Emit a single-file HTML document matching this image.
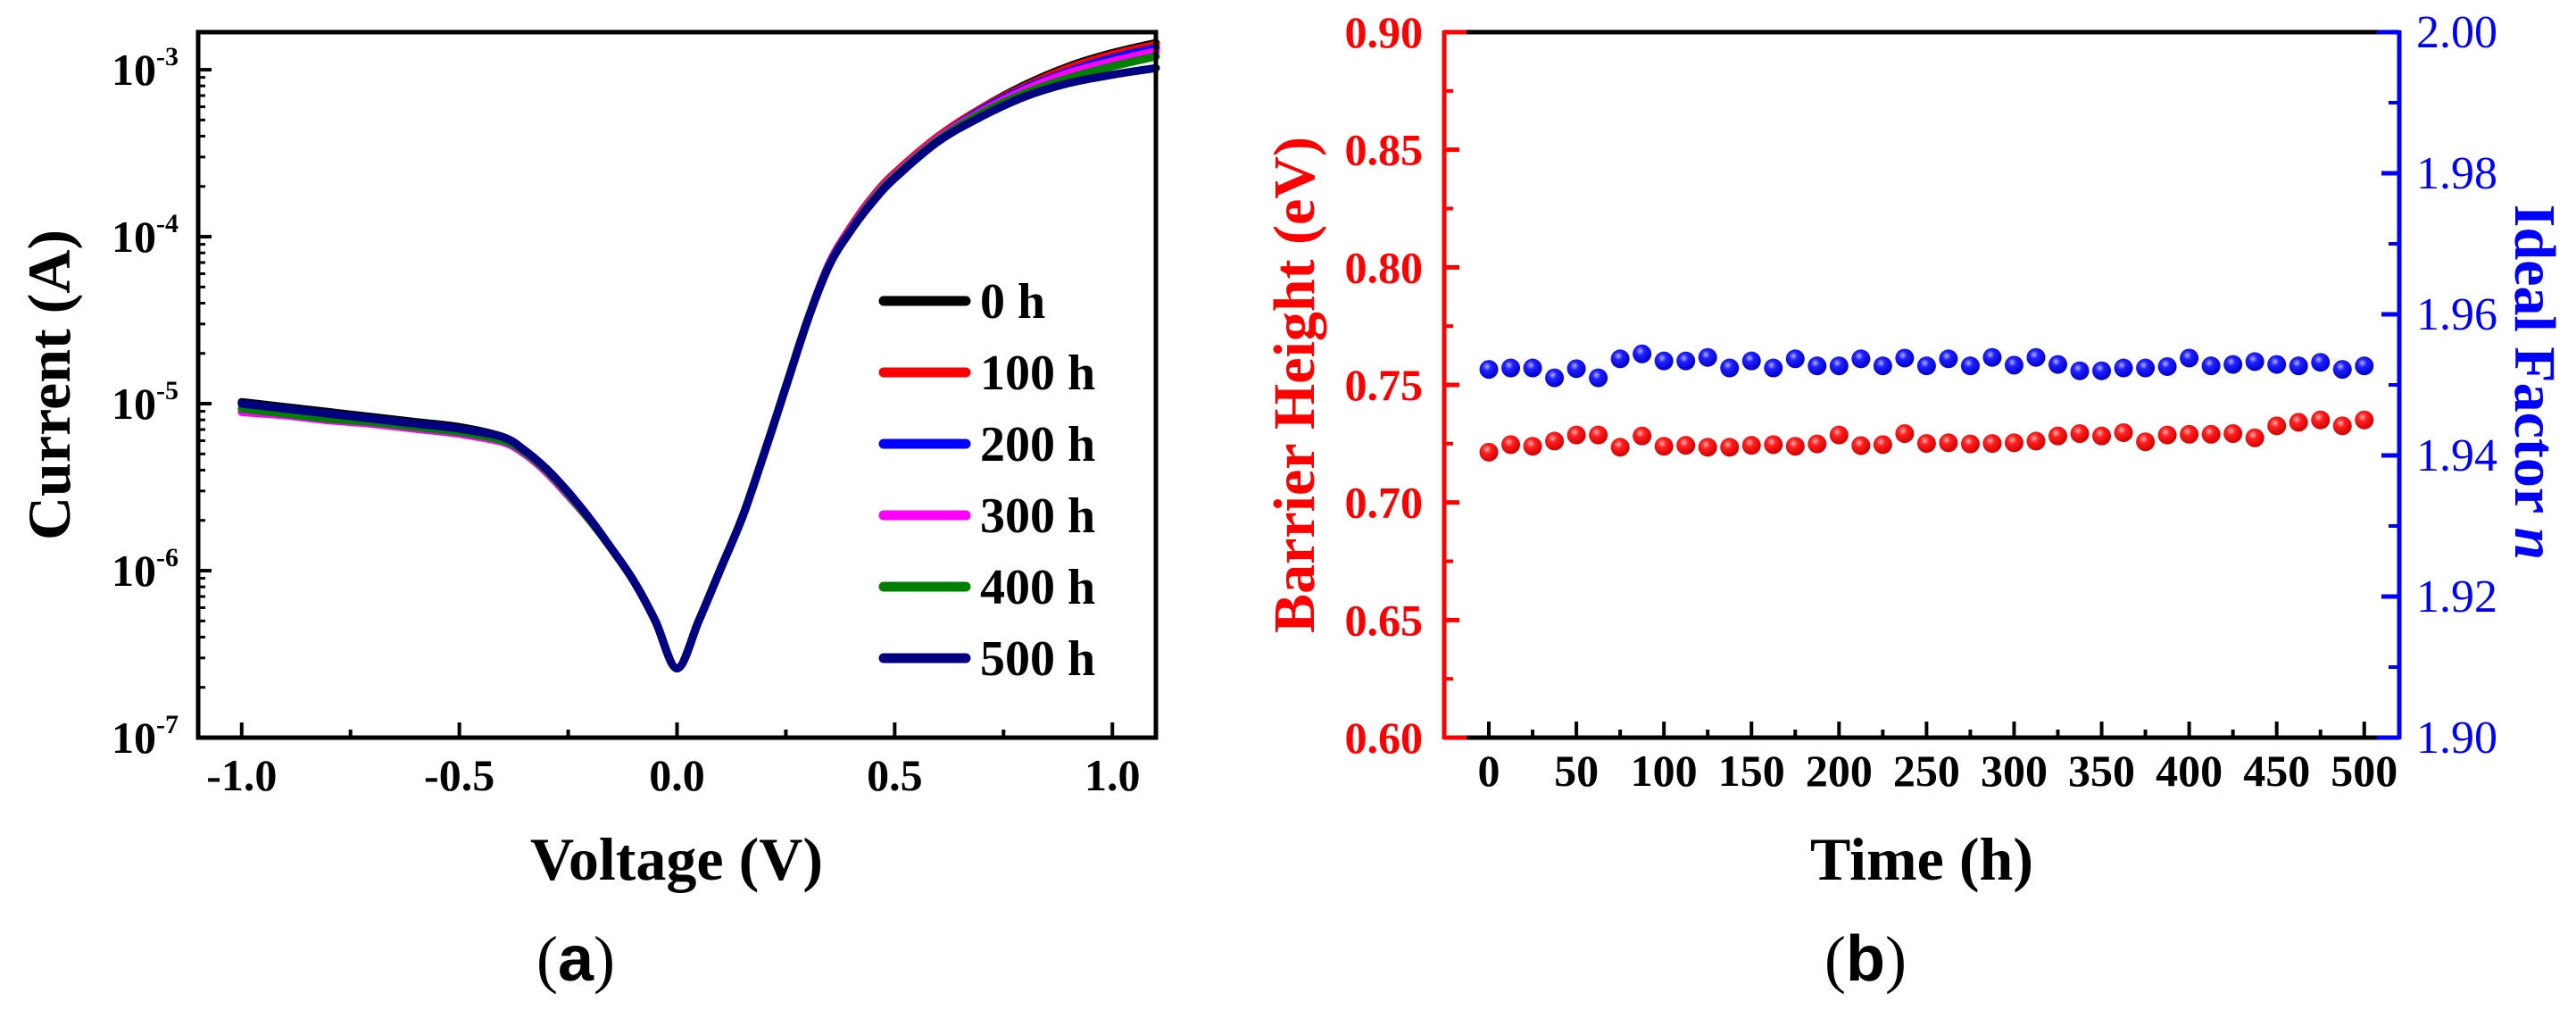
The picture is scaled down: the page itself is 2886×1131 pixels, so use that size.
<!DOCTYPE html>
<html><head><meta charset="utf-8">
<style>
html,body{margin:0;padding:0;background:#fff;}
svg{display:block;font-family:"Liberation Serif",serif;}
</style></head>
<body>
<svg id="fig" width="2886" height="1131" viewBox="0 0 2886 1131" xmlns="http://www.w3.org/2000/svg">
<defs>
<radialGradient id="gRed" cx="0.4" cy="0.35" r="0.65"><stop offset="0" stop-color="#ffb0b0"/><stop offset="0.35" stop-color="#ff2020"/><stop offset="1" stop-color="#d00000"/></radialGradient>
<radialGradient id="gBlue" cx="0.4" cy="0.35" r="0.65"><stop offset="0" stop-color="#b0b0ff"/><stop offset="0.35" stop-color="#2020ff"/><stop offset="1" stop-color="#0000c8"/></radialGradient>
</defs>
<g id="pa"></g>
<g id="pb"></g>
</svg>
<script>
// ---------- Panel (a) data ----------
const voltages = [-1,-0.9,-0.8,-0.7,-0.6,-0.5,-0.4,-0.35,-0.3,-0.25,-0.2,-0.15,-0.1,-0.05,0,0.05,0.1,0.15,0.2,0.25,0.3,0.35,0.4,0.45,0.5,0.6,0.7,0.8,0.9,1.0,1.1];
const seriesNames = ["0 h","100 h","200 h","300 h","400 h","500 h"];
// log10(current in A)
const logI_0h   = [-4.99,-5.02,-5.05,-5.08,-5.11,-5.14,-5.20,-5.28,-5.39,-5.53,-5.69,-5.87,-6.06,-6.30,-6.585,-6.30,-5.99,-5.68,-5.30,-4.90,-4.50,-4.16,-3.94,-3.76,-3.62,-3.40,-3.23,-3.09,-2.98,-2.90,-2.84];
const logI_100h = [-5.03,-5.06,-5.09,-5.12,-5.15,-5.18,-5.23,-5.30,-5.41,-5.55,-5.70,-5.87,-6.06,-6.30,-6.585,-6.30,-5.99,-5.68,-5.30,-4.90,-4.50,-4.16,-3.94,-3.76,-3.62,-3.40,-3.23,-3.10,-2.99,-2.91,-2.85];
const logI_200h = [-5.00,-5.03,-5.06,-5.09,-5.12,-5.15,-5.21,-5.29,-5.39,-5.53,-5.69,-5.87,-6.06,-6.30,-6.585,-6.30,-5.99,-5.68,-5.30,-4.90,-4.50,-4.16,-3.95,-3.77,-3.63,-3.41,-3.24,-3.11,-3.01,-2.93,-2.87];
const logI_300h = [-5.05,-5.07,-5.10,-5.12,-5.15,-5.18,-5.23,-5.30,-5.41,-5.55,-5.70,-5.87,-6.06,-6.30,-6.585,-6.30,-5.99,-5.68,-5.30,-4.90,-4.50,-4.16,-3.95,-3.77,-3.63,-3.41,-3.25,-3.12,-3.02,-2.95,-2.89];
const logI_400h = [-5.03,-5.06,-5.09,-5.11,-5.14,-5.17,-5.22,-5.29,-5.40,-5.54,-5.70,-5.87,-6.06,-6.30,-6.585,-6.30,-5.99,-5.68,-5.30,-4.90,-4.50,-4.17,-3.96,-3.78,-3.64,-3.42,-3.26,-3.14,-3.05,-2.98,-2.92];
const logI_500h = [-5.00,-5.03,-5.06,-5.09,-5.12,-5.15,-5.20,-5.28,-5.39,-5.53,-5.69,-5.87,-6.06,-6.30,-6.585,-6.30,-5.99,-5.68,-5.30,-4.90,-4.50,-4.17,-3.96,-3.79,-3.65,-3.43,-3.28,-3.16,-3.08,-3.03,-2.99];
const xTickValsA = [-1.0,-0.5,0.0,0.5,1.0];
const xTickLabelsA = ["-1.0","-0.5","0.0","0.5","1.0"];
const yDecadesA = [-7,-6,-5,-4,-3];

// ---------- Panel (b) data ----------
const times = [0,12.5,25,37.5,50,62.5,75,87.5,100,112.5,125,137.5,150,162.5,175,187.5,200,212.5,225,237.5,250,262.5,275,287.5,300,312.5,325,337.5,350,362.5,375,387.5,400,412.5,425,437.5,450,462.5,475,487.5,500];
const barrierHeight = [0.7214,0.7246,0.7239,0.7261,0.7287,0.7287,0.7235,0.7283,0.7239,0.7243,0.7235,0.7235,0.7243,0.7246,0.7239,0.7249,0.7287,0.7242,0.7246,0.7293,0.7251,0.7254,0.7249,0.7251,0.7254,0.7261,0.7283,0.7293,0.7283,0.7297,0.7258,0.7287,0.7290,0.7290,0.7293,0.7275,0.7326,0.7341,0.7351,0.7326,0.7351];
const idealFactor = [1.9522,1.9524,1.9524,1.9510,1.9523,1.9510,1.9537,1.9544,1.9534,1.9534,1.9539,1.9524,1.9534,1.9524,1.9537,1.9527,1.9527,1.9537,1.9527,1.9538,1.9527,1.9537,1.9527,1.9539,1.9528,1.9539,1.9529,1.9520,1.9520,1.9524,1.9524,1.9526,1.9538,1.9527,1.9529,1.9533,1.9529,1.9527,1.9532,1.9522,1.9527];
const xTickValsB = [0,50,100,150,200,250,300,350,400,450,500];
const yLeftTicksB = ["0.60","0.65","0.70","0.75","0.80","0.85","0.90"];
const yRightTicksB = ["1.90","1.92","1.94","1.96","1.98","2.00"];

const NS = "http://www.w3.org/2000/svg";
function mk(parent, tag, attrs, text){
  const e = document.createElementNS(NS, tag);
  for (const k in attrs) e.setAttribute(k, attrs[k]);
  if (text !== undefined) e.textContent = text;
  parent.appendChild(e);
  return e;
}

// ================= Panel A =================
const pa = document.getElementById('pa');
const A = {l:222, r:1295, t:36, b:826, vmin:-1.1, vmax:1.1, lmin:-7, lmax:-2.775};
function ax(v){ return A.l + (v - A.vmin)/(A.vmax - A.vmin)*(A.r - A.l); }
function ay(lg){ return A.b - (lg - A.lmin)/(A.lmax - A.lmin)*(A.b - A.t); }

const colors = ["#000000","#ff0000","#0000ff","#ff00ff","#008000","#000080"];
const allSeries = [logI_0h,logI_100h,logI_200h,logI_300h,logI_400h,logI_500h];
const curveG = mk(pa,'g',{});


function smoothPath(pts){
  let d = "M"+pts[0][0].toFixed(1)+","+pts[0][1].toFixed(1);
  for (let i=0;i<pts.length-1;i++){
    const p0=pts[Math.max(0,i-1)], p1=pts[i], p2=pts[i+1], p3=pts[Math.min(pts.length-1,i+2)];
    const c1=[p1[0]+(p2[0]-p0[0])/6, p1[1]+(p2[1]-p0[1])/6];
    const c2=[p2[0]-(p3[0]-p1[0])/6, p2[1]-(p3[1]-p1[1])/6];
    d += " C"+c1[0].toFixed(1)+","+c1[1].toFixed(1)+" "+c2[0].toFixed(1)+","+c2[1].toFixed(1)+" "+p2[0].toFixed(1)+","+p2[1].toFixed(1);
  }
  return d;
}
allSeries.forEach((s,si)=>{
  const pts = voltages.map((v,i)=>[ax(v), ay(s[i])]);
  const p = mk(curveG,'path',{d:smoothPath(pts), fill:'none', stroke:colors[si], 'stroke-width':9, 'stroke-linejoin':'round','stroke-linecap':'round'});
  
  
});

// frame
const frameA = mk(pa,'rect',{x:A.l,y:A.t,width:A.r-A.l,height:A.b-A.t,fill:'none',stroke:'#000','stroke-width':5});



// x ticks
for (let v=-1.0; v<=1.001; v+=0.25){
  const major = Math.abs(v*2 - Math.round(v*2))<1e-6;
  mk(pa,'line',{x1:ax(v),x2:ax(v),y1:A.b,y2:A.b-(major?17:9),stroke:'#000','stroke-width':4});
}
xTickValsA.forEach((v,i)=>{
  const t = mk(pa,'text',{x:ax(v),y:885,'font-size':50,'font-weight':'bold','text-anchor':'middle'},xTickLabelsA[i]);
  
  
});
// y ticks
yDecadesA.forEach(dv=>{
  mk(pa,'line',{x1:A.l,x2:A.l+15,y1:ay(dv),y2:ay(dv),stroke:'#000','stroke-width':4});
  if (dv < -3) for (let m=2;m<=9;m++){
    const yy = ay(dv+Math.log10(m));
    mk(pa,'line',{x1:A.l,x2:A.l+8,y1:yy,y2:yy,stroke:'#000','stroke-width':3});
  }
  const t = mk(pa,'text',{x:200,y:ay(dv)+17,'font-size':50,'font-weight':'bold','text-anchor':'end'});
  
  
  const a = document.createElementNS(NS,'tspan'); a.textContent='10'; t.appendChild(a);
  const b = document.createElementNS(NS,'tspan'); b.setAttribute('font-size','30'); b.setAttribute('dy','-22'); b.textContent=String(dv); t.appendChild(b);
});
for (let m=2;m<=5;m++){ const yy=ay(-3+Math.log10(m)); if(yy>A.t) mk(pa,'line',{x1:A.l,x2:A.l+8,y1:yy,y2:yy,stroke:'#000','stroke-width':3}); }

const xtA = mk(pa,'text',{x:758,y:985,'font-size':68,'font-weight':'bold','text-anchor':'middle'},'Voltage (V)');


const ytA = mk(pa,'text',{x:0,y:0,'font-size':68,'font-weight':'bold','text-anchor':'middle',transform:'translate(78,431) rotate(-90)'},'Current (A)');



// legend
const legG = mk(pa,'g',{});


seriesNames.forEach((n,i)=>{
  const y = 337 + i*80;
  const en = mk(legG,'g',{});
  
  
  mk(en,'line',{x1:990,x2:1082,y1:y,y2:y,stroke:colors[i],'stroke-width':11,'stroke-linecap':'round'});
  mk(en,'text',{x:1098,y:y+19,'font-size':56,'font-weight':'bold'},n);
});
const labA = mk(pa,'text',{x:645,y:1098,'font-size':72,'text-anchor':'middle'});


labA.innerHTML = '(<tspan font-weight="bold" font-family="Liberation Sans, sans-serif">a</tspan>)';

// ================= Panel B =================
const pb = document.getElementById('pb');
const B = {l:1618, r:2688, t:36, b:826, tmin:-25.5, tmax:520, y1min:0.60, y1max:0.90, y2min:1.90, y2max:2.00};
function bx(t){ return B.l + (t - B.tmin)/(B.tmax - B.tmin)*(B.r - B.l); }
function by1(v){ return B.b - (v - B.y1min)/(B.y1max - B.y1min)*(B.b - B.t); }
function by2(v){ return B.b - (v - B.y2min)/(B.y2max - B.y2min)*(B.b - B.t); }

mk(pb,'line',{x1:B.l,x2:B.r,y1:B.t,y2:B.t,stroke:'#000','stroke-width':5});
mk(pb,'line',{x1:B.l,x2:B.r,y1:B.b,y2:B.b,stroke:'#000','stroke-width':5});
const la = mk(pb,'line',{x1:B.l,x2:B.l,y1:B.t-2,y2:B.b+2,stroke:'#ff0000','stroke-width':5});


const ra = mk(pb,'line',{x1:B.r,x2:B.r,y1:B.t-2,y2:B.b+2,stroke:'#0000ff','stroke-width':5});


mk(pb,'line',{x1:B.l,x2:B.l+25,y1:B.t,y2:B.t,stroke:'#ff0000','stroke-width':5});
mk(pb,'line',{x1:B.l,x2:B.l+25,y1:B.b,y2:B.b,stroke:'#ff0000','stroke-width':5});
mk(pb,'line',{x1:B.r-25,x2:B.r,y1:B.t,y2:B.t,stroke:'#0000ff','stroke-width':5});
mk(pb,'line',{x1:B.r-25,x2:B.r,y1:B.b,y2:B.b,stroke:'#0000ff','stroke-width':5});

for (let t=0;t<=500;t+=25){
  const major = t%50===0;
  mk(pb,'line',{x1:bx(t),x2:bx(t),y1:B.b,y2:B.b-(major?18:9),stroke:'#000','stroke-width':4});
}
xTickValsB.forEach(t=>{
  const e = mk(pb,'text',{x:bx(t),y:880,'font-size':50,'font-weight':'bold','text-anchor':'middle'},String(t));
  
  
});
yLeftTicksB.forEach(s=>{
  const v = parseFloat(s);
  mk(pb,'line',{x1:B.l,x2:B.l+17,y1:by1(v),y2:by1(v),stroke:'#ff0000','stroke-width':5});
  const e = mk(pb,'text',{x:1594,y:by1(v)+17,'font-size':50,'font-weight':'bold','text-anchor':'end',fill:'#ff0000'},s);
  
  
});
for (let v=0.625; v<0.9; v+=0.05) mk(pb,'line',{x1:B.l,x2:B.l+10,y1:by1(v),y2:by1(v),stroke:'#ff0000','stroke-width':4});
yRightTicksB.forEach(s=>{
  const v = parseFloat(s);
  mk(pb,'line',{x1:B.r-20,x2:B.r,y1:by2(v),y2:by2(v),stroke:'#0000ff','stroke-width':5});
  const e = mk(pb,'text',{x:2707,y:by2(v)+17,'font-size':52,fill:'#0000ff'},s);
  
  
});
for (let v=1.91; v<2.0; v+=0.02) mk(pb,'line',{x1:B.r-12,x2:B.r,y1:by2(v),y2:by2(v),stroke:'#0000ff','stroke-width':4});

const redG = mk(pb,'g',{});


times.forEach((t,i)=>{
  const c = mk(redG,'circle',{cx:bx(t),cy:by1(barrierHeight[i]),r:10.5,fill:'url(#gRed)'});
  
  
});
const blueG = mk(pb,'g',{});


times.forEach((t,i)=>{
  const c = mk(blueG,'circle',{cx:bx(t),cy:by2(idealFactor[i]),r:10.5,fill:'url(#gBlue)'});
  
  
});

const xtB = mk(pb,'text',{x:2153,y:985,'font-size':68,'font-weight':'bold','text-anchor':'middle'},'Time (h)');


const ytB = mk(pb,'text',{x:0,y:0,'font-size':66,'font-weight':'bold','text-anchor':'middle',fill:'#ff0000',transform:'translate(1472,431) rotate(-90)'},'Barrier Height (eV)');


const ytB2 = mk(pb,'text',{x:0,y:0,'font-size':66,'font-weight':'bold','text-anchor':'middle',fill:'#0000ff',transform:'translate(2818,428) rotate(90)'});


ytB2.innerHTML = 'Ideal Factor <tspan font-style="italic">n</tspan>';
const labB = mk(pb,'text',{x:2090,y:1098,'font-size':72,'text-anchor':'middle'});


labB.innerHTML = '(<tspan font-weight="bold" font-family="Liberation Sans, sans-serif">b</tspan>)';
</script>
</body></html>
